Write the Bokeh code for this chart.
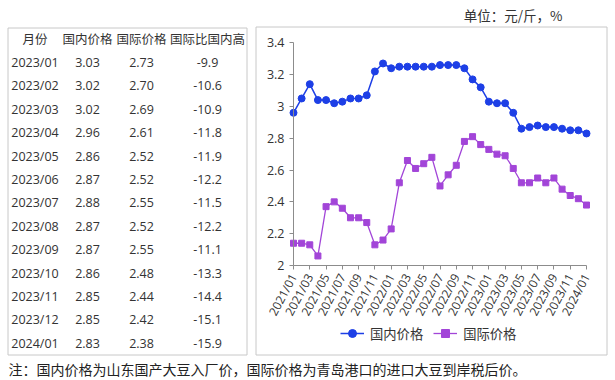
import math
from bokeh.plotting import figure
from bokeh.models import Range1d, FixedTicker, Legend, LegendItem, LinearAxis
from bokeh.core.properties import value
from bokeh.embed import file_html
from bokeh.resources import INLINE

# ---------------- data ----------------
months = [f"{y}/{m:02d}" for y in (2021, 2022, 2023) for m in range(1, 13)] + ["2024/01"]
domestic = [2.96, 3.05, 3.14, 3.04, 3.04, 3.02, 3.03, 3.05, 3.05, 3.07, 3.22, 3.27,
            3.24, 3.25, 3.25, 3.25, 3.25, 3.25, 3.26, 3.26, 3.26, 3.24, 3.17, 3.12,
            3.03, 3.02, 3.02, 2.96, 2.86, 2.87, 2.88, 2.87, 2.87, 2.86, 2.85, 2.85,
            2.83]
international = [2.14, 2.14, 2.13, 2.06, 2.37, 2.40, 2.36, 2.30, 2.30, 2.27, 2.13, 2.16,
                 2.23, 2.52, 2.66, 2.61, 2.64, 2.68, 2.50, 2.57, 2.63, 2.78, 2.81, 2.76,
                 2.73, 2.70, 2.69, 2.61, 2.52, 2.52, 2.55, 2.52, 2.55, 2.48, 2.44, 2.42,
                 2.38]
premium = [-9.9, -10.6, -10.9, -11.8, -11.9, -12.2, -11.5, -12.2, -11.1, -13.3, -14.4,
           -15.1, -15.9]
table_headers = ["月份", "国内价格", "国际价格", "国际比国内高"]
y_ticks = [2.0, 2.2, 2.4, 2.6, 2.8, 3.0, 3.2, 3.4]
series_names = ["国内价格", "国际价格"]
unit_text = "单位：元/斤，%"
note_text = "注：国内价格为山东国产大豆入厂价，国际价格为青岛港口的进口大豆到岸税后价。"

# ---------------- styles / layout (page pixels) ----------------
W, H = 615, 380
BLUE = "#1d3fe6"
PURPLE = "#a245d8"
TXT = "#333333"
BOX = "#c8c8c8"
AX = "#8c8c8c"
CJK = "Noto Sans CJK SC"
NUM = "Open Sans"

PX_X0, PX_X1 = 293, 586      # pixel column of first / last month
PX_Y0, PX_Y1 = 265, 42.3     # pixel row of lowest / highest y tick

x_min, x_max = 0, len(months) - 1
y_min, y_max = y_ticks[0], y_ticks[-1]
kx = (PX_X1 - PX_X0) / (x_max - x_min)
ky = (PX_Y0 - PX_Y1) / (y_max - y_min)
x_range = Range1d(x_min - PX_X0 / kx, x_max + (W - PX_X1) / kx)
y_range = Range1d(y_min - (H - PX_Y0) / ky, y_max + PX_Y1 / ky)

p = figure(width=W, height=H, x_range=x_range, y_range=y_range, title=None,
           output_backend="svg", toolbar_location=None, min_border=0,
           x_axis_location=None, y_axis_location=None)
p.grid.visible = False
p.outline_line_color = None
p.extra_x_ranges = {"px": Range1d(0, W)}
p.extra_y_ranges = {"px": Range1d(H, 0)}
PX = dict(x_range_name="px", y_range_name="px")

# boxes
p.quad(left=[7.5, 255.5], right=[246.5, 606.5], top=[27.5, 26.5], bottom=[354.5, 354.5],
       fill_alpha=0, line_color=BOX, line_width=1, **PX)

# unit label
p.text(x=[512.5], y=[14], text=[unit_text], text_align="center", text_baseline="middle",
       text_font=value(CJK), text_font_size="13.5px", text_color=TXT, **PX)

# table
col_x = [34.5, 87, 141, 207]
p.text(x=col_x, y=[38] * 4, text=table_headers, text_align="center",
       text_baseline="middle", text_font=value(CJK), text_font_size="12.5px",
       text_color=TXT, **PX)
n = len(premium)
t_months = months[-n:]
t_dom = domestic[-n:]
t_int = international[-n:]
xs, ys, ts = [], [], []
for i in range(n):
    yy = 62 + 23.4 * i
    for cx, s in zip(col_x, [t_months[i], f"{t_dom[i]:.2f}", f"{t_int[i]:.2f}",
                             f"{premium[i]:.1f}"]):
        xs.append(cx)
        ys.append(yy)
        ts.append(s)
p.text(x=xs, y=ys, text=ts, text_align="center", text_baseline="middle",
       text_font=value(NUM), text_font_size="12.5px", text_color=TXT, **PX)

# note
p.text(x=[8], y=[368], text=[note_text], text_align="left", text_baseline="middle",
       text_font=value(CJK), text_font_size="14px", text_color="#222222", **PX)

# ---------------- chart ----------------
x = list(range(len(months)))
r1 = p.line(x, domestic, color=BLUE, line_width=1.5)
s1 = p.scatter(x, domestic, marker="circle", size=7, color=BLUE)
r2 = p.line(x, international, color=PURPLE, line_width=1.3)
s2 = p.scatter(x, international, marker="square", size=6, color=PURPLE)

xax = LinearAxis(fixed_location=y_min, bounds=(x_min, x_max),
                 ticker=FixedTicker(ticks=list(range(0, len(months), 2))),
                 major_label_overrides={i: months[i] for i in range(0, len(months), 2)},
                 major_label_orientation=math.radians(62),
                 major_label_text_font_size="12px")
yax = LinearAxis(fixed_location=x_min, bounds=(y_min, y_max),
                 ticker=FixedTicker(ticks=y_ticks),
                 major_label_overrides={t: f"{t:g}" for t in y_ticks},
                 major_label_text_font_size="12.5px")
for ax in (xax, yax):
    ax.axis_line_color = AX
    ax.major_tick_line_color = AX
    ax.major_tick_out = 4
    ax.major_tick_in = 0
    ax.minor_tick_line_color = None
    ax.major_label_text_font = NUM
    ax.major_label_text_color = TXT
    ax.major_label_standoff = 5
p.add_layout(xax, "below")
p.add_layout(yax, "left")

legend = Legend(items=[LegendItem(label=series_names[0], renderers=[r1, s1]),
                       LegendItem(label=series_names[1], renderers=[r2, s2])],
                location=(340, H - 343), orientation="horizontal",
                glyph_width=24, glyph_height=20, label_standoff=6, spacing=10,
                padding=0, margin=0, border_line_color=None, background_fill_alpha=0,
                label_text_font=CJK, label_text_font_size="13.3px", label_text_color=TXT)
p.add_layout(legend)

open("out.html", "w").write(file_html(p, INLINE))
